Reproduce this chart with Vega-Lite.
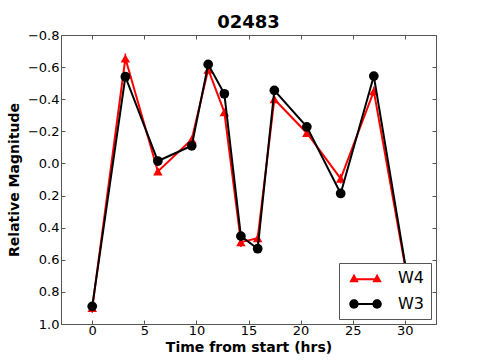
{
  "$schema": "https://vega.github.io/schema/vega-lite/v6.json",
  "autosize": "none",
  "width": 375,
  "height": 289,
  "padding": {"left": 61, "top": 35, "right": 49, "bottom": 36},
  "background": "white",
  "title": {"text": "02483", "font": "DejaVu Sans", "fontSize": 18, "fontWeight": "bold", "color": "black", "offset": -3},
  "config": {
    "view": {"stroke": "#555555", "strokeWidth": 1},
    "axis": {"labelFont": "DejaVu Sans", "titleFont": "DejaVu Sans", "labelFontSize": 13, "titleFontSize": 14, "titleFontWeight": "bold", "labelColor": "black", "titleColor": "black", "grid": false, "domain": false, "tickColor": "#555555", "tickSize": -4, "labelPadding": 6, "labelOverlap": false},
    "legend": {"title": null, "orient": "none", "legendX": 278, "legendY": 228, "fillColor": "white", "strokeColor": "#555555", "padding": 7, "labelFont": "DejaVu Sans", "labelFontSize": 16, "labelColor": "black", "symbolSize": 110, "symbolStrokeWidth": 0, "symbolOpacity": 1, "rowPadding": 10, "labelOffset": 36}
  },
  "data": {"values": [
    {"series": "W4", "t": 0.0, "mag": 0.90, "err": 0.03},
    {"series": "W4", "t": 3.18, "mag": -0.655, "err": 0.03},
    {"series": "W4", "t": 6.3, "mag": 0.05, "err": 0.02},
    {"series": "W4", "t": 9.55, "mag": -0.15, "err": 0.02},
    {"series": "W4", "t": 11.13, "mag": -0.585, "err": 0.02},
    {"series": "W4", "t": 12.68, "mag": -0.32, "err": 0.02},
    {"series": "W4", "t": 14.27, "mag": 0.49, "err": 0.03},
    {"series": "W4", "t": 15.88, "mag": 0.465, "err": 0.03},
    {"series": "W4", "t": 17.48, "mag": -0.40, "err": 0.02},
    {"series": "W4", "t": 20.6, "mag": -0.19, "err": 0.02},
    {"series": "W4", "t": 23.85, "mag": 0.095, "err": 0.03},
    {"series": "W4", "t": 27.03, "mag": -0.45, "err": 0.03},
    {"series": "W4", "t": 30.2, "mag": 0.70, "err": 0.03},
    {"series": "W3", "t": 0.0, "mag": 0.89, "err": 0.01},
    {"series": "W3", "t": 3.18, "mag": -0.54, "err": 0.01},
    {"series": "W3", "t": 6.3, "mag": -0.015, "err": 0.01},
    {"series": "W3", "t": 9.55, "mag": -0.11, "err": 0.01},
    {"series": "W3", "t": 11.13, "mag": -0.617, "err": 0.01},
    {"series": "W3", "t": 12.68, "mag": -0.434, "err": 0.01},
    {"series": "W3", "t": 14.27, "mag": 0.453, "err": 0.01},
    {"series": "W3", "t": 15.88, "mag": 0.531, "err": 0.01},
    {"series": "W3", "t": 17.48, "mag": -0.455, "err": 0.01},
    {"series": "W3", "t": 20.6, "mag": -0.228, "err": 0.01},
    {"series": "W3", "t": 23.85, "mag": 0.187, "err": 0.01},
    {"series": "W3", "t": 27.03, "mag": -0.544, "err": 0.01},
    {"series": "W3", "t": 30.2, "mag": 0.69, "err": 0.01}
  ]},
  "layer": [
    {
      "transform": [{"filter": "datum.series === 'W4'"}, {"calculate": "datum.mag - datum.err", "as": "lo"}, {"calculate": "datum.mag + datum.err", "as": "hi"}],
      "mark": {"type": "rule", "color": "red", "strokeWidth": 1.5, "clip": true},
      "encoding": {
        "x": {"field": "t", "type": "quantitative", "scale": {"domain": [-3, 33], "nice": false, "zero": false}, "axis": {"values": [0, 5, 10, 15, 20, 25, 30], "title": "Time from start (hrs)", "titlePadding": 3, "labelPadding": 4}},
        "y": {"field": "lo", "type": "quantitative", "scale": {"domain": [-0.8, 1.0], "reverse": true, "nice": false, "zero": false}, "axis": {"values": [-0.8, -0.6, -0.4, -0.2, 0, 0.2, 0.4, 0.6, 0.8, 1.0], "format": ".1f", "title": "Relative Magnitude", "titlePadding": 6}},
        "y2": {"field": "hi"}
      }
    },
    {
      "transform": [{"filter": "datum.series === 'W4'"}],
      "mark": {"type": "line", "color": "red", "strokeWidth": 2, "clip": true, "point": {"filled": true, "size": 90, "clip": true, "shape": "triangle-up", "color": "red", "opacity": 1}},
      "encoding": {
        "x": {"field": "t", "type": "quantitative", "scale": {"domain": [-3, 33], "nice": false, "zero": false}, "axis": null},
        "y": {"field": "mag", "type": "quantitative", "scale": {"domain": [-0.8, 1.0], "reverse": true, "nice": false, "zero": false}, "axis": null}
      }
    },
    {
      "transform": [{"filter": "datum.series === 'W3'"}],
      "mark": {"type": "line", "color": "black", "strokeWidth": 2, "clip": true, "point": {"filled": true, "size": 95, "clip": true, "shape": "circle", "color": "black", "opacity": 1}},
      "encoding": {
        "x": {"field": "t", "type": "quantitative", "scale": {"domain": [-3, 33], "nice": false, "zero": false}, "axis": null},
        "y": {"field": "mag", "type": "quantitative", "scale": {"domain": [-0.8, 1.0], "reverse": true, "nice": false, "zero": false}, "axis": null}
      }
    },
    {
      "mark": {"type": "point", "filled": true, "size": 0, "strokeWidth": 0, "opacity": 1},
      "encoding": {
        "x": {"field": "t", "type": "quantitative", "scale": {"domain": [-3, 33], "nice": false, "zero": false}, "axis": {"orient": "top", "labels": false, "title": null, "values": [0, 5, 10, 15, 20, 25, 30]}},
        "y": {"field": "mag", "type": "quantitative", "scale": {"domain": [-0.8, 1.0], "reverse": true, "nice": false, "zero": false}, "axis": {"orient": "right", "labels": false, "title": null, "values": [-0.8, -0.6, -0.4, -0.2, 0, 0.2, 0.4, 0.6, 0.8, 1.0]}},
        "color": {"field": "series", "type": "nominal", "scale": {"domain": ["W4", "W3"], "range": ["red", "black"]}},
        "shape": {"field": "series", "type": "nominal", "scale": {"domain": ["W4", "W3"], "range": ["M-0.9,0.8L0,-0.8L0.9,0.8ZM0,0.05H4.4V0.45H0ZM3.5,0.8L4.4,-0.8L5.3,0.8Z", "M-0.9,0A0.9,0.9 0 1 1 0.9,0A0.9,0.9 0 1 1 -0.9,0ZM0,-0.2H4.4V0.2H0ZM3.5,0A0.9,0.9 0 1 1 5.3,0A0.9,0.9 0 1 1 3.5,0Z"]}}
      }
    }
  ],
  "resolve": {"axis": {"x": "independent", "y": "independent"}}
}
